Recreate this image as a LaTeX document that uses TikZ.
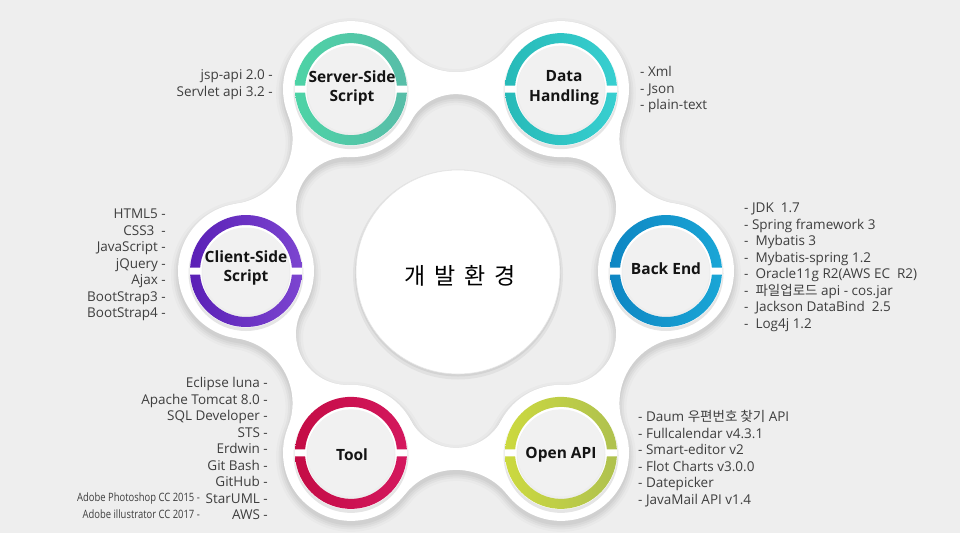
\documentclass[tikz,border=0pt]{standalone}
\usepackage{fontspec}
\setmainfont{Open Sans}
\newfontfamily\kr{Noto Sans CJK KR}
\definecolor{bg}{HTML}{EEEEEE}
\definecolor{txt}{HTML}{3E3E3E}
\definecolor{innerc}{HTML}{F1F1F1}
\definecolor{ssA}{HTML}{4DD3A6}\definecolor{ssB}{HTML}{58BDA8}
\definecolor{dhA}{HTML}{27BAB8}\definecolor{dhB}{HTML}{38CFD0}
\definecolor{csA}{HTML}{5A20B6}\definecolor{csB}{HTML}{7C45D0}
\definecolor{beA}{HTML}{0E86C3}\definecolor{beB}{HTML}{1AA6D6}
\definecolor{tlA}{HTML}{C40C45}\definecolor{tlB}{HTML}{D4185E}
\definecolor{oaA}{HTML}{CCD93F}\definecolor{oaB}{HTML}{AFC14F}
\newcommand\whitebody[1]{%
  \foreach \a in {30,90,150,210,270,330}{%
    \path[#1, shift={(456,271)}, rotate=\a]
      (223.91,-51.55) arc[start angle=231.81, end angle=128.19, radius=65.59]
      -- (149.87,45) arc[start angle=61.93, end angle=-61.93, radius=51] -- cycle;
  }%
  \foreach \p in {(666,271),(561,452.87),(351,452.87),(246,271),(351,89.13),(561,89.13)}{%
    \path[#1] \p circle[radius=68];
  }%
}
\newcommand\satellite[4]{% x, y, colA, colB
  \begin{scope}[shift={(#1,#2)}]
    \fill[black, opacity=0.10] (0,2.5) circle[radius=57.5];
    \fill[white] (0,0) circle[radius=56.5];
    \shade[left color=#3, right color=#4]
      (55.89,-3.5) arc[start angle=-3.58, end angle=-176.42, radius=56]
      -- (-45.87,-3.5) arc[start angle=-175.64, end angle=-4.36, radius=46] -- cycle;
    \shade[left color=#3, right color=#4]
      (55.89,3.5) arc[start angle=3.58, end angle=176.42, radius=56]
      -- (-45.87,3.5) arc[start angle=175.64, end angle=4.36, radius=46] -- cycle;
    \fill[black, opacity=0.07] (0,1.5) circle[radius=44.5];
    \fill[innerc] (0,0) circle[radius=43.5];
  \end{scope}
}
\begin{document}
\begin{tikzpicture}[x=1pt,y=-1pt,
  title/.style={font=\fontsize{15.5}{19.5}\selectfont\bfseries, text=black!92, align=center, inner sep=0pt},
  list/.style={font=\fontsize{13.5}{16.5}\selectfont, text=txt, inner sep=0pt},
  adobe/.style={font=\fontsize{11.5}{17}\selectfont, text=txt, inner sep=0pt, align=right},
]
\useasboundingbox (0,0) rectangle (960,533);
\fill[bg] (0,0) rectangle (960,533);
% shadow of the white frame
\foreach \w/\o in {14/0.02, 9/0.03, 5/0.035, 1/0.04}{%
  \begin{scope}[transparency group, opacity=\o, shift={(0,4)}]
    \whitebody{fill=black, draw=black, line width=\w pt, line join=round}
  \end{scope}
}
\whitebody{fill=white}
% centre circle
\fill[black, opacity=0.05] (458,274.5) circle[radius=105];
\fill[black, opacity=0.06] (458,273.5) circle[radius=103];
\fill[white] (458,272) circle[radius=102];
\draw[black!10, line width=0.6pt] (458,272) circle[radius=102];
\node[font={\kr\fontsize{23}{28}\selectfont}, text=black] (centre) at (460,276)
  {개\hspace{9pt}발\hspace{9pt}환\hspace{9pt}경};
% satellites
\satellite{351}{89.13}{ssA}{ssB}
\satellite{561}{89.13}{dhA}{dhB}
\satellite{246}{271}{csA}{csB}
\satellite{666}{271}{beA}{beB}
\satellite{351}{452.87}{tlA}{tlB}
\satellite{561}{452.87}{oaA}{oaB}
\node[title] (ss) at (352,88) {Server-Side\\Script};
\node[title] (dh) at (564,88) {Data\\Handling};
\node[title] (cs) at (246,268) {Client-Side\\Script};
\node[title] (be) at (666,269) {Back End};
\node[title] (tl) at (352,455) {Tool};
\node[title] (oa) at (561,455) {Open API};
% lists
\node[list, anchor=east, align=right] (ssl) at (273,84.5)
  {jsp-api 2.0 -\\Servlet api 3.2 -};
\node[list, anchor=west, align=left] (dhl) at (640,89.5)
  {- Xml\\- Json\\- plain-text};
\node[list, anchor=east, align=right] (csl) at (166,265)
  {HTML5 -\\CSS3~~-\\JavaScript -\\jQuery -\\Ajax -\\BootStrap3 -\\BootStrap4 -};
\node[list, anchor=west, align=left] (bel) at (744,267.5)
  {- JDK~~1.7\\- Spring framework 3\\-~~Mybatis 3\\-~~Mybatis-spring 1.2\\-~~Oracle11g R2(AWS EC~~R2)\\-~~{\kr 파일업로드} api - cos.jar\\-~~Jackson DataBind~~2.5\\-~~Log4j 1.2};
\node[list, anchor=east, align=right] (tll) at (268,448.5)
  {Eclipse luna -\\Apache Tomcat 8.0 -\\SQL Developer -\\STS -\\Erdwin -\\Git Bash -\\GitHub -\\StarUML -\\AWS -};
\node[adobe, anchor=east] (adl) at (200,505.5)
  {\scalebox{0.82}[1]{Adobe Photoshop CC 2015 -}\\\scalebox{0.82}[1]{Adobe illustrator CC 2017 -}};
\node[list, anchor=west, align=left] (oal) at (638,458.5)
  {- Daum {\kr 우편번호 찾기} API\\- Fullcalendar v4.3.1\\- Smart-editor v2\\- Flot Charts v3.0.0\\- Datepicker\\- JavaMail API v1.4};
\end{tikzpicture}
\end{document}
